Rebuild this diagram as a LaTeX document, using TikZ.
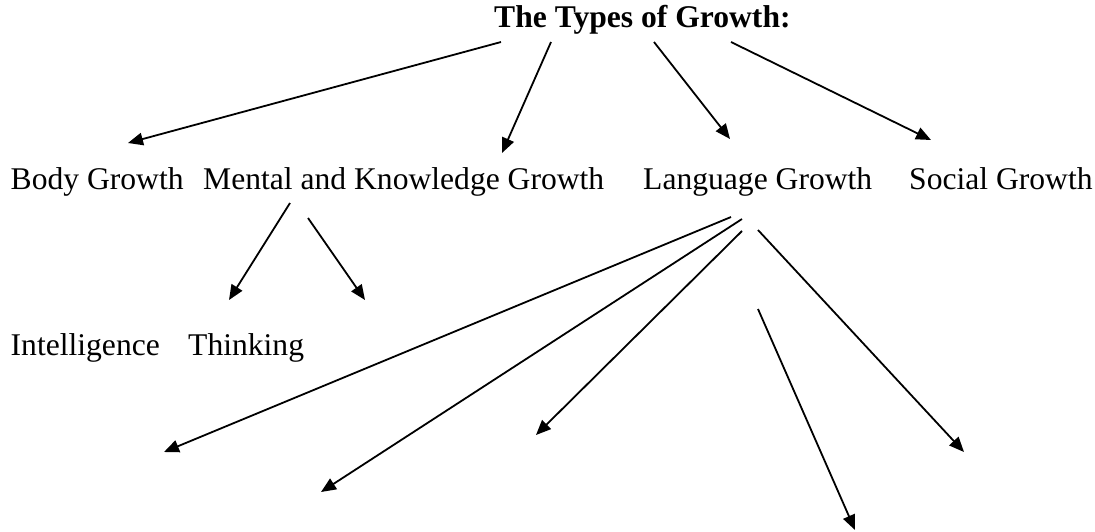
\documentclass[tikz,border=0pt]{standalone}
\usepackage{fontspec}
\setmainfont{Liberation Serif}
\usetikzlibrary{arrows.meta}

\begin{document}
\begin{tikzpicture}[x=1pt, y=-1pt,
    lbl/.style={anchor=base west, inner sep=0pt, font=\fontsize{31.6}{38}\selectfont},
    arr/.style={line width=1.8pt, -{Triangle[length=15pt,width=12.5pt]}}]
    \useasboundingbox (0,0) rectangle (1095,531);

    \node (title) [lbl, font=\fontsize{31.6}{38}\selectfont\bfseries] at (494,27) {The Types of Growth:};

    \node (body) [lbl] at (10.5,189.5) {Body Growth};
    \node (mental) [lbl] at (203,189.5) {Mental and Knowledge Growth};
    \node (lang) [lbl] at (643,189.5) {Language Growth};
    \node (social) [lbl] at (909,189.5) {Social Growth};

    \node (intel) [lbl] at (10.5,355) {Intelligence};
    \node (think) [lbl] at (188,355) {Thinking};

    \coordinate (t1) at (501,42);
    \coordinate (t2) at (551,42);
    \coordinate (t3) at (654,42);
    \coordinate (t4) at (731,42);
    \coordinate (b1) at (128,143);
    \coordinate (b2) at (502,153);
    \coordinate (b3) at (730,139);
    \coordinate (b4) at (931,140);

    \coordinate (m1) at (290,203);
    \coordinate (m2) at (308,218);
    \coordinate (i1) at (229,300);
    \coordinate (i2) at (365,300);

    \coordinate (l1) at (731,217);
    \coordinate (l2) at (742,219);
    \coordinate (l3) at (742,231);
    \coordinate (l4) at (758,230);
    \coordinate (l5) at (758,309);
    \coordinate (e1) at (164,452);
    \coordinate (e2) at (321,492);
    \coordinate (e3) at (536,435);
    \coordinate (e4) at (964,452);
    \coordinate (e5) at (855,530);

    \draw[arr] (t1) -- (b1);
    \draw[arr] (t2) -- (b2);
    \draw[arr] (t3) -- (b3);
    \draw[arr] (t4) -- (b4);

    \draw[arr] (m1) -- (i1);
    \draw[arr] (m2) -- (i2);

    \draw[arr] (l1) -- (e1);
    \draw[arr] (l2) -- (e2);
    \draw[arr] (l3) -- (e3);
    \draw[arr] (l4) -- (e4);
    \draw[arr] (l5) -- (e5);
\end{tikzpicture}
\end{document}
